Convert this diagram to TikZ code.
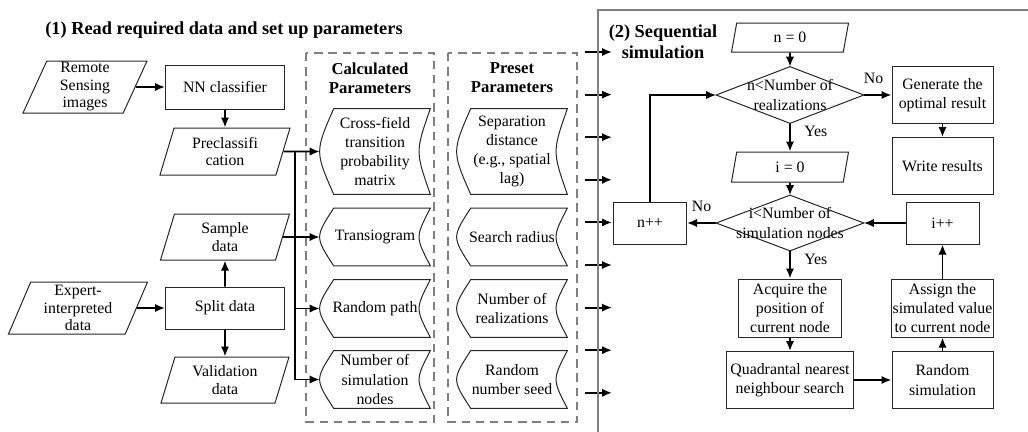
\documentclass[tikz,border=0pt]{standalone}
\usepackage{fontspec}
\setmainfont{Liberation Serif}
\usetikzlibrary{shapes.geometric,arrows.meta,calc}
\newcommand{\px}{0.6pt}
\newcommand{\storebox}[1]{\draw[boxline] ($(#1.north west)+(14,0)$) -- (#1.north east) .. controls ($(#1.east)+(-15,0)$) .. (#1.south east) -- ($(#1.south west)+(14,0)$) .. controls ($(#1.west)+(-4.7,0)$) .. cycle;}
\newcommand{\diamondbox}[1]{\draw[boxline] (#1.north) -- (#1.east) -- (#1.south) -- (#1.west) -- cycle;}

\begin{document}
\begin{tikzpicture}[x=0.6pt,y=-0.6pt,
  every node/.style={font=\fontsize{9.5}{11.5}\selectfont, align=center, inner sep=0pt},
  sz/.style 2 args={minimum width=#1*\px, minimum height=#2*\px},
  boxline/.style={draw=black!85, line width=0.6pt},
  box/.style={boxline},
  para/.style={boxline, trapezium, trapezium left angle=64, trapezium right angle=116,
    trapezium stretches body, font=\fontsize{9.5}{10.5}\selectfont},
  stored/.style={minimum width=110*\px, minimum height=#1*\px},
  head/.style={font=\fontsize{10}{11.5}\selectfont\bfseries},
  title/.style={font=\fontsize{11}{12.5}\selectfont\bfseries},
  arr/.style={line width=1.1pt, -{Latex[length=6pt,width=5pt]}},
  dashbox/.style={draw=black!50, line width=0.9pt, dash pattern=on 5pt off 3.5pt},
  frame/.style={draw=black!50, line width=1.3pt}]
\useasboundingbox (0,0) rectangle (1028,431);

\node[title] (t1) at (224,30) {(1) Read required data and set up parameters};
\node[para, sz={124}{52}] (rs) at (85,87) {Remote\\Sensing\\images};
\node[box, sz={119}{44}] (nn) at (225,87) {NN classifier};
\node[para, sz={130}{47}] (pc) at (225,151.5) {Preclassifi\\cation};
\node[para, sz={129}{46}] (sa) at (225,237) {Sample\\data};
\node[box, sz={119}{42}] (sp) at (225,308) {Split data};
\node[para, sz={139}{52}] (ex) at (78,308) {Expert-\\interpreted\\data};
\node[para, sz={128}{46}] (va) at (225,380) {Validation\\data};

\draw[dashbox] (306,53) rectangle (434,422);
\draw[dashbox] (448,53) rectangle (577,422);
\node[head] (cph) at (370,78) {Calculated\\Parameters};
\node[head] (pph) at (512,78) {Preset\\Parameters};
\node[stored=85] (cf) at (375,151.5) {Cross-field\\transition\\probability\\matrix};
\node[stored=57] (tg) at (375,237) {Transiogram};
\node[stored=57] (rp) at (375,308.5) {Random path};
\node[stored=57] (ns) at (375,379.5) {Number of\\simulation\\nodes};
\node[stored=85] (sd) at (512,151.5) {Separation\\distance\\(e.g., spatial\\lag)};
\node[stored=57] (sr) at (512,237) {Search radius};
\node[stored=57] (nr) at (512,308.5) {Number of\\realizations};
\node[stored=57] (rn) at (512,379.5) {Random\\number seed};
\foreach \n in {cf,tg,rp,ns,sd,sr,nr,rn} {\storebox{\n}}

\draw[arr] (rs.east) -- (rs.east -| nn.west);
\draw[arr] (nn) -- (pc);
\draw[arr] (ex.east) -- (ex.east -| sp.west);
\draw[arr] (sp) -- (sa);
\draw[arr] (sp) -- (va);
\draw[arr] (pc.east) -- (cf.west);
\draw[arr] (sa.east) -- (tg.west);
\coordinate (bus) at (295,151.5);
\draw[arr] (bus) |- (ns.west);
\draw[arr] (bus |- rp.west) -- (rp.west);

\foreach \k in {0,...,8} {
  \coordinate (in\k) at (612,{52+42.6*\k});
  \draw[arr] ([xshift=-27*\px]in\k) -- (in\k);
}

\draw[frame] (598,440) -- (598,10) -- (1040,10);
\node[title] (t2) at (663,42) {(2) Sequential\\simulation};
\node[para, sz={117}{29}] (n0) at (790,37.5) {n = 0};
\node[sz={147}{56}] (d1) at (790,95) {n<Number of\\realizations};
\node[box, sz={101}{57}] (gen) at (942.5,95) {Generate the\\optimal result};
\node[box, sz={101}{57}] (wr) at (942.5,166) {Write results};
\node[para, sz={117}{30}] (i0) at (790,167) {i = 0};
\node[sz={147}{55}] (d2) at (790,223) {i<Number of\\simulation nodes};
\node[box, sz={73}{42}] (np) at (650,223) {n++};
\node[box, sz={103}{58}] (ac) at (790,308) {Acquire the\\position of\\current node};
\node[box, sz={127}{57}] (qn) at (790,380) {Quadrantal nearest\\neighbour search};
\node[box, sz={101}{57}] (rsim) at (942.5,380) {Random\\simulation};
\node[box, sz={102}{58}] (as) at (942.5,308) {Assign the\\simulated value\\to current node};
\node[box, sz={73}{42}] (ip) at (942.5,223) {i++};
\diamondbox{d1}
\diamondbox{d2}

\draw[arr] (n0.south) -- (d1.north);
\draw[arr] (d1.east) -- node[pos=0.35, above=6pt] {No} (gen.west);
\draw[arr] (gen) -- (wr);
\draw[arr] (d1.south) -- node[pos=0.3, right=8pt] {Yes} (i0.north);
\draw[arr] (i0.south) -- (d2.north);
\draw[arr] (d2.west) -- node[above=6pt] {No} (np.east);
\draw[arr] (np.north) |- (d1.west);
\draw[arr] (d2.south) -- node[pos=0.3, right=8pt] {Yes} (ac.north);
\draw[arr] (ac) -- (qn);
\draw[arr] (qn) -- (rsim);
\draw[arr] (rsim) -- (as);
\draw[arr] (as) -- (ip);
\draw[arr] (ip) -- (d2.east);
\end{tikzpicture}
\end{document}
